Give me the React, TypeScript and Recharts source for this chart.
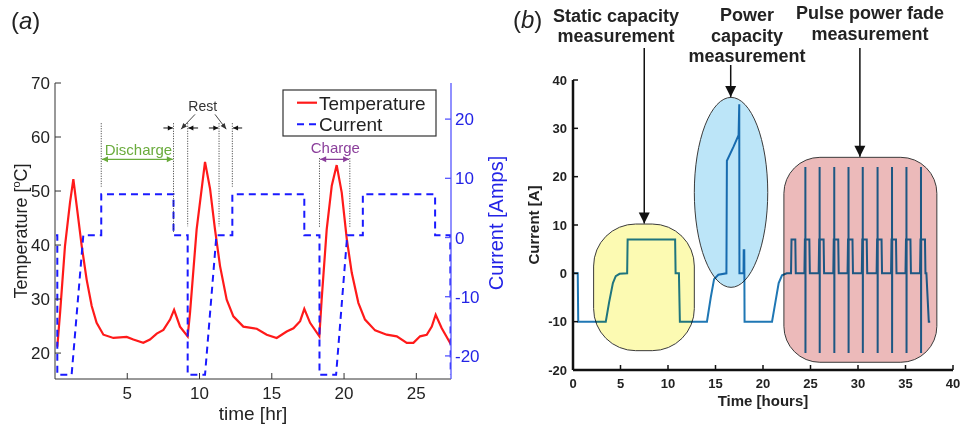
import React from 'react';
import { LineChart, Line, XAxis, YAxis, ReferenceLine, ReferenceArea, ReferenceDot } from 'recharts';

const FONT = '"Liberation Sans", Arial, Helvetica, sans-serif';

// ---------- Panel (a) data ----------
const tempHours = [0.16, 0.35, 0.69, 1.04, 1.27, 1.5, 1.85, 2.19, 2.54, 2.88, 3.35, 4.04, 4.96, 5.42, 6.11, 6.57, 7.04, 7.5, 7.96, 8.24, 8.65, 9.18, 9.34, 9.8, 10.38, 10.73, 11.07, 11.42, 11.88, 12.34, 13.03, 13.96, 14.65, 15.34, 16.03, 16.5, 16.96, 17.25, 17.65, 18.29, 18.45, 18.8, 19.15, 19.49, 19.84, 20.19, 20.53, 20.99, 21.45, 22.15, 22.95, 23.65, 24.34, 24.8, 25.26, 25.72, 26.07, 26.34, 26.76, 27.33, 27.4];
const tempValues = [21.2, 27.4, 39.8, 47.9, 52.2, 47.3, 39.8, 33.6, 28.7, 25.6, 23.4, 22.8, 23.0, 22.5, 21.9, 22.5, 23.6, 24.3, 26.2, 28.0, 24.9, 23.1, 27.4, 42.9, 55.4, 50.4, 42.9, 36.1, 29.9, 26.8, 24.9, 24.5, 23.4, 22.8, 24.0, 24.6, 25.9, 28.2, 25.6, 23.1, 29.9, 42.9, 51.0, 54.8, 49.7, 41.1, 34.9, 29.3, 26.2, 24.2, 23.4, 23.1, 21.9, 21.9, 23.1, 23.4, 24.9, 27.1, 24.6, 21.9, 21.6];
const currentHours = [0.07, 0.16, 0.16, 1.15, 1.96, 3.2, 3.2, 8.2, 8.2, 9.18, 9.18, 10.38, 11.17, 12.27, 12.27, 17.25, 17.25, 18.3, 18.3, 19.45, 20.22, 21.3, 21.3, 26.3, 26.3, 27.35, 27.38];
const currentValues = [0.4, 0.4, -23.2, -23.2, 0.4, 0.4, 7.3, 7.3, 0.4, 0.4, -23.2, -23.2, 0.4, 0.4, 7.3, 7.3, 0.4, 0.4, -23.2, -23.2, 0.4, 0.4, 7.3, 7.3, 0.4, 0.4, -23.2];
const timeTicksA = [5, 10, 15, 20, 25];
const tempTicks = [20, 30, 40, 50, 60, 70];
const currentTicksA = [-20, -10, 0, 10, 20];

// ---------- Panel (b) data ----------
const testHours = [
  0, 0, 0.5, 0.55, 3.45, 3.8, 4.2, 4.5, 4.9, 5.7, 5.75, 10.75, 10.8, 11.15, 11.25,
  14.1, 14.5, 14.85, 15.3, 16.15, 16.2, 16.9, 17.43, 17.5, 17.52, 17.95, 17.97, 18.03, 18.06,
  20.95, 21.3, 21.65, 22.0, 22.5, 22.95, 23.0, 23.4, 23.45,
  24.36, 24.41, 24.46, 24.46, 24.47, 24.48, 24.88, 24.93,
  25.86, 25.91, 25.96, 25.96, 25.97, 25.98, 26.38, 26.43,
  27.4, 27.45, 27.5, 27.5, 27.51, 27.52, 27.92, 27.97,
  28.9, 28.95, 29.0, 29.0, 29.01, 29.02, 29.42, 29.47,
  30.4, 30.45, 30.5, 30.5, 30.51, 30.52, 30.92, 30.97,
  31.96, 32.01, 32.06, 32.06, 32.07, 32.08, 32.48, 32.53,
  33.48, 33.53, 33.58, 33.58, 33.59, 33.6, 34.0, 34.05,
  35.0, 35.05, 35.1, 35.1, 35.11, 35.12, 35.52, 35.57,
  36.53, 36.58, 36.63, 36.63, 36.64, 36.65, 37.05, 37.1, 37.2, 37.45, 37.6,
];
const testCurrent = [
  7, 0, 0, -10, -10, -6, -2, -0.6, -0.1, 0, 7, 7, 0, 0, -10,
  -10, -5, -1.2, -0.3, 0, 23.3, 26.2, 28.6, 35, 0, 0, 4.8, 4.8, -10,
  -10, -6, -2, -0.4, 0, 0, 7, 7, 0,
  0, 7, 7, 22, -16.5, 7, 7, 0,
  0, 7, 7, 22, -16.5, 7, 7, 0,
  0, 7, 7, 22, -16.5, 7, 7, 0,
  0, 7, 7, 22, -16.5, 7, 7, 0,
  0, 7, 7, 22, -16.5, 7, 7, 0,
  0, 7, 7, 22, -16.5, 7, 7, 0,
  0, 7, 7, 22, -16.5, 7, 7, 0,
  0, 7, 7, 22, -16.5, 7, 7, 0,
  0, 7, 7, 22, -16.5, 7, 7, 0, 0, -10, -10,
];
const timeTicksB = [0, 5, 10, 15, 20, 25, 30, 35, 40];
const currentTicksB = [-20, -10, 0, 10, 20, 30, 40];

const tempData = tempHours.map((t, i) => ({ t, temp: tempValues[i] }));
const currentData = currentHours.map((t, i) => ({ t, cur: currentValues[i] }));
const testData = testHours.map((t, i) => ({ t, i: testCurrent[i] }));

// ---------- helpers ----------
type Side = 'bottom' | 'top' | 'left' | 'right';
const makeTick = (side: Side, len: number, stroke: string, sw: number, label: boolean, color: string, size: number, gap: number, weight: string | number = 'normal') => (props: any) => {
  const { x, y, payload } = props;
  let ln: any = null;
  let tx: any = null;
  const tp = { fill: color, fontSize: size, fontFamily: FONT, fontWeight: weight } as any;
  if (side === 'bottom') {
    ln = <line x1={x} y1={y} x2={x} y2={y - len} stroke={stroke} strokeWidth={sw} />;
    if (label) tx = <text x={x} y={y + gap} textAnchor="middle" {...tp}>{payload.value}</text>;
  } else if (side === 'top') {
    ln = <line x1={x} y1={y} x2={x} y2={y + len} stroke={stroke} strokeWidth={sw} />;
  } else if (side === 'left') {
    ln = <line x1={x} y1={y} x2={x + len} y2={y} stroke={stroke} strokeWidth={sw} />;
    if (label) tx = <text x={x - gap} y={y} dy="0.36em" textAnchor="end" {...tp}>{payload.value}</text>;
  } else {
    ln = <line x1={x} y1={y} x2={x - len} y2={y} stroke={stroke} strokeWidth={sw} />;
    if (label) tx = <text x={x + gap} y={y} dy="0.36em" textAnchor="start" {...tp}>{payload.value}</text>;
  }
  return <g>{ln}{tx}</g>;
};

const arrowShape = (color: string, both: boolean, head: number, half: number, sw: number) => (p: any) => {
  const { x1, y1, x2, y2 } = p;
  const a = Math.atan2(y2 - y1, x2 - x1);
  const tri = (x: number, y: number, ang: number) => {
    const bx = x - head * Math.cos(ang);
    const by = y - head * Math.sin(ang);
    const px = -Math.sin(ang) * half;
    const py = Math.cos(ang) * half;
    return <polygon points={`${x},${y} ${bx + px},${by + py} ${bx - px},${by - py}`} fill={color} />;
  };
  return (
    <g>
      <line x1={x1} y1={y1} x2={x2} y2={y2} stroke={color} strokeWidth={sw} />
      {tri(x2, y2, a)}
      {both ? tri(x1, y1, a + Math.PI) : null}
    </g>
  );
};

const labelShape = (text: string, color: string, size: number) => (p: any) => (
  <text x={p.cx} y={p.cy} dy="0.36em" textAnchor="middle" fill={color} fontSize={size} fontFamily={FONT}>{text}</text>
);

const roundShape = (fill: string, rx: number) => (p: any) => (
  <rect x={p.x} y={p.y} width={p.width} height={p.height} rx={rx} ry={rx} fill={fill} stroke="#3a3a3a" strokeWidth={1} style={{ mixBlendMode: 'multiply' }} />
);
const ellipseShape = (fill: string) => (p: any) => (
  <ellipse cx={p.x + p.width / 2} cy={p.y + p.height / 2} rx={p.width / 2} ry={p.height / 2} fill={fill} stroke="#3a3a3a" strokeWidth={1} style={{ mixBlendMode: 'multiply' }} />
);

const DOT = '#333';
const restLines = [
  { x: 3.2, y1: 19.3, y2: 8.6 },
  { x: 8.2, y1: 19.3, y2: 0.8 },
  { x: 9.18, y1: 19.3, y2: 1.9 },
  { x: 11.35, y1: 19.3, y2: 1.9 },
  { x: 12.27, y1: 19.3, y2: 8.6 },
  { x: 18.3, y1: 13.4, y2: 1.6 },
  { x: 20.4, y1: 13.4, y2: 1.6 },
];

function PanelA() {
  const blue = '#2323e6';
  return (
    <LineChart width={510} height={427} margin={{ top: 83, right: 0, bottom: 18, left: 5 }}>
      <XAxis type="number" dataKey="t" domain={[0, 27.4]} allowDataOverflow ticks={timeTicksA} height={30}
        axisLine={{ stroke: '#333', strokeWidth: 1 }} tickLine={false} tickSize={0} tickMargin={0}
        tick={makeTick('bottom', 6, '#333', 1, true, '#222', 17, 20)} interval={0} />
      <XAxis xAxisId="top" orientation="top" type="number" domain={[0, 27.4]} allowDataOverflow ticks={timeTicksA} height={0}
        axisLine={{ stroke: '#333', strokeWidth: 1 }} tickLine={false} tickSize={0} tickMargin={0}
        tick={makeTick('top', 6, '#333', 1, false, '#222', 17, 0)} interval={0} />
      <YAxis yAxisId="left" type="number" domain={[15.2, 70]} allowDataOverflow ticks={tempTicks} width={50}
        axisLine={{ stroke: '#333', strokeWidth: 1 }} tickLine={false} tickSize={0} tickMargin={0}
        tick={makeTick('left', 6, '#333', 1, true, '#222', 17, 5)} interval={0} />
      <YAxis yAxisId="right" orientation="right" type="number" domain={[-23.9, 26.1]} allowDataOverflow ticks={currentTicksA} width={59}
        axisLine={{ stroke: '#5555ff', strokeWidth: 1.3 }} tickLine={false} tickSize={0} tickMargin={0}
        tick={makeTick('right', 6, '#5555ff', 1.3, true, blue, 17, 4)} interval={0} />
      <Line data={tempData} dataKey="temp" name="Temperature" yAxisId="left" type="linear" stroke="#ff1a1a" strokeWidth={2.2} dot={false} isAnimationActive={false} />
      <Line data={currentData} dataKey="cur" name="Current" yAxisId="right" type="linear" stroke="#1a1aff" strokeWidth={2} strokeDasharray="7 5" dot={false} isAnimationActive={false} />
      {restLines.map((r, k) => (
        <ReferenceLine key={k} yAxisId="right" segment={[{ x: r.x, y: r.y1 }, { x: r.x, y: r.y2 }]} stroke={DOT} strokeWidth={1} strokeDasharray="1 1.5" />
      ))}
      <ReferenceLine yAxisId="right" segment={[{ x: 3.25, y: 13.2 }, { x: 8.15, y: 13.2 }]} shape={arrowShape('#6aab3c', true, 6, 3, 1.3)} />
      <ReferenceLine yAxisId="right" segment={[{ x: 18.35, y: 13.2 }, { x: 20.35, y: 13.2 }]} shape={arrowShape('#8b3f9b', true, 6, 3, 1.3)} />
      <ReferenceLine yAxisId="right" segment={[{ x: 7.5, y: 18.5 }, { x: 8.15, y: 18.5 }]} shape={arrowShape('#111', false, 5, 2.5, 1)} />
      <ReferenceLine yAxisId="right" segment={[{ x: 9.9, y: 18.5 }, { x: 9.23, y: 18.5 }]} shape={arrowShape('#111', false, 5, 2.5, 1)} />
      <ReferenceLine yAxisId="right" segment={[{ x: 10.65, y: 18.5 }, { x: 11.3, y: 18.5 }]} shape={arrowShape('#111', false, 5, 2.5, 1)} />
      <ReferenceLine yAxisId="right" segment={[{ x: 12.95, y: 18.5 }, { x: 12.32, y: 18.5 }]} shape={arrowShape('#111', false, 5, 2.5, 1)} />
      <ReferenceLine yAxisId="right" segment={[{ x: 9.69, y: 20.8 }, { x: 8.72, y: 18.3 }]} shape={arrowShape('#333', false, 6, 2.5, 0.9)} />
      <ReferenceLine yAxisId="right" segment={[{ x: 11.07, y: 20.8 }, { x: 11.85, y: 18.3 }]} shape={arrowShape('#333', false, 6, 2.5, 0.9)} />
      <ReferenceDot yAxisId="right" x={5.77} y={14.9} r={0} shape={labelShape('Discharge', '#6aab3c', 15)} />
      <ReferenceDot yAxisId="right" x={19.4} y={15.2} r={0} shape={labelShape('Charge', '#8b3f9b', 15)} />
      <ReferenceDot yAxisId="right" x={10.22} y={22.3} r={0} shape={labelShape('Rest', '#333', 14)} />
    </LineChart>
  );
}

function PanelB() {
  return (
    <LineChart width={470} height={427} margin={{ top: 80, right: 7, bottom: 27, left: 35 }}>
      <XAxis type="number" dataKey="t" domain={[0, 40]} allowDataOverflow ticks={timeTicksB} height={30}
        axisLine={{ stroke: '#111', strokeWidth: 2.5 }} tickLine={false} tickSize={0} tickMargin={0}
        tick={makeTick('bottom', 5, '#111', 1.5, true, '#222', 13, 18, 'bold')} interval={0} />
      <XAxis xAxisId="top" orientation="top" type="number" domain={[0, 40]} allowDataOverflow ticks={timeTicksB} height={0}
        axisLine={{ stroke: '#111', strokeWidth: 2.5 }} tickLine={false} tickSize={0} tickMargin={0}
        tick={makeTick('top', 5, '#111', 1.5, false, '#222', 12, 0)} interval={0} />
      <YAxis type="number" domain={[-20, 40]} allowDataOverflow ticks={currentTicksB} width={48}
        axisLine={{ stroke: '#111', strokeWidth: 2.5 }} tickLine={false} tickSize={0} tickMargin={0}
        tick={makeTick('left', 5, '#111', 1.5, true, '#222', 13, 6, 'bold')} interval={0} />
      <YAxis yAxisId="right" orientation="right" type="number" domain={[-20, 40]} allowDataOverflow ticks={currentTicksB} width={0}
        axisLine={{ stroke: '#111', strokeWidth: 2.5 }} tickLine={false} tickSize={0} tickMargin={0}
        tick={makeTick('right', 5, '#111', 1.5, false, '#222', 12, 0)} interval={0} />
      <Line data={testData} dataKey="i" type="linear" stroke="#1f77b4" strokeWidth={2} dot={false} isAnimationActive={false} />
      <ReferenceArea x1={2.17} x2={12.77} y1={-16} y2={10.2} shape={roundShape('#fcfab2', 42)} zIndex={600} />
      <ReferenceArea x1={12.77} x2={20.5} y1={-2.9} y2={36.4} shape={ellipseShape('#bce5f8')} zIndex={600} />
      <ReferenceArea x1={22.2} x2={38.3} y1={-18.4} y2={24.0} shape={roundShape('#ecbaba', 36)} zIndex={600} />
      <ReferenceLine segment={[{ x: 7.5, y: 46.6 }, { x: 7.5, y: 10.3 }]} ifOverflow="visible" shape={arrowShape('#111', false, 11, 5.5, 1.5)} zIndex={700} />
      <ReferenceLine segment={[{ x: 16.6, y: 43.1 }, { x: 16.6, y: 36.5 }]} ifOverflow="visible" shape={arrowShape('#111', false, 11, 5.5, 1.5)} zIndex={700} />
      <ReferenceLine segment={[{ x: 30.2, y: 46.6 }, { x: 30.2, y: 24.1 }]} ifOverflow="visible" shape={arrowShape('#111', false, 11, 5.5, 1.5)} zIndex={700} />
    </LineChart>
  );
}

export default function App() {
  return (
    <div style={{ position: 'absolute', left: 0, top: 0, width: 960, height: 427, background: '#fff', overflow: 'hidden', fontFamily: FONT }}>
      <div style={{ position: 'absolute', left: 0, top: 0 }}><PanelA /></div>
      <div style={{ position: 'absolute', left: 490, top: 0 }}><PanelB /></div>
      <svg width={960} height={427} style={{ position: 'absolute', left: 0, top: 0, pointerEvents: 'none' }} fontFamily={FONT}>
        <text x={11} y={29} fontSize={24} fill="#222">(<tspan fontStyle="italic">a</tspan>)</text>
        <text x={513} y={28} fontSize={24} fill="#222">(<tspan fontStyle="italic">b</tspan>)</text>
        <text transform="translate(27,231) rotate(-90)" textAnchor="middle" fontSize={18} fill="#222">Temperature [<tspan dy={-7} fontSize={11}>o</tspan><tspan dy={7}>C]</tspan></text>
        <text transform="translate(503,223) rotate(-90)" textAnchor="middle" fontSize={20} fill="#2323e6">Current [Amps]</text>
        <text x={253} y={420} textAnchor="middle" fontSize={19} fill="#222">time [hr]</text>
        <rect x={283} y={90} width={153} height={46} fill="#fff" stroke="#333" strokeWidth={1.2} />
        <line x1={297} y1={102.7} x2={317} y2={102.7} stroke="#ff1a1a" strokeWidth={2.2} />
        <text x={319} y={102.7} dy="0.36em" fontSize={19} fill="#222">Temperature</text>
        <line x1={297} y1={124.3} x2={317} y2={124.3} stroke="#1a1aff" strokeWidth={2} strokeDasharray="7 5" />
        <text x={319} y={124.3} dy="0.36em" fontSize={19} fill="#222">Current</text>
        <text transform="translate(539,225) rotate(-90)" textAnchor="middle" fontSize={15} fontWeight="bold" fill="#222">Current [A]</text>
        <text x={763} y={406} textAnchor="middle" fontSize={15} fontWeight="bold" fill="#222">Time [hours]</text>
        <g fontSize={18} fontWeight="bold" fill="#222" textAnchor="middle">
          <text x={616} y={22}>Static capacity</text>
          <text x={616} y={42}>measurement</text>
          <text x={747} y={21}>Power</text>
          <text x={747} y={41.5}>capacity</text>
          <text x={747} y={62}>measurement</text>
          <text x={870} y={19}>Pulse power fade</text>
          <text x={870} y={39.5}>measurement</text>
        </g>
      </svg>
    </div>
  );
}
